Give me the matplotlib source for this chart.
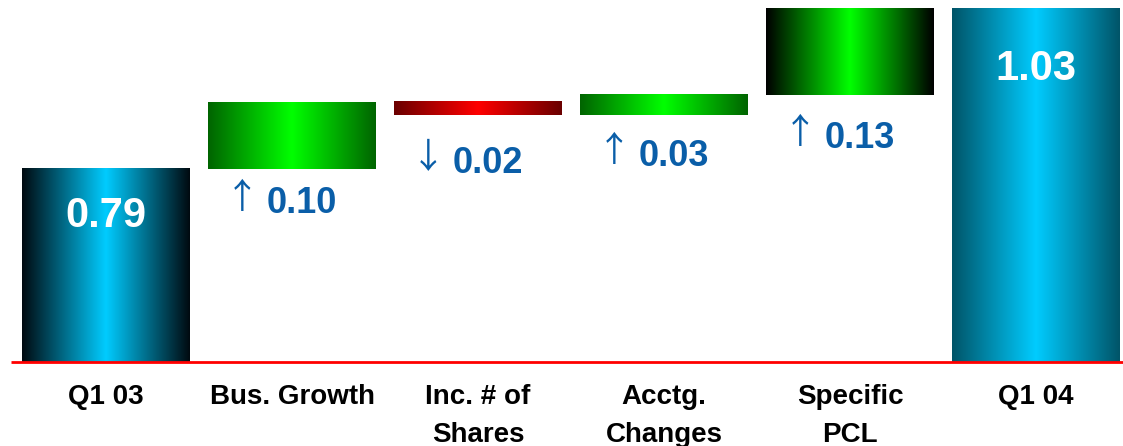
import numpy as np
import matplotlib
matplotlib.use('Agg')
import matplotlib.pyplot as plt
from matplotlib.colors import LinearSegmentedColormap

# --- Data ---
categories = ['Q1 03', 'Bus. Growth', 'Inc. # of\nShares', 'Acctg.\nChanges', 'Specific\nPCL', 'Q1 04']
start_value = 0.79
deltas = [0.10, -0.02, 0.03, 0.13]
end_value = 1.03

plt.rcParams['font.family'] = ['Liberation Sans', 'DejaVu Sans']

fig = plt.figure(figsize=(11.23, 4.46), dpi=100)
ax = fig.add_axes([0, 0, 1, 1])
ax.axis('off')

base = 0.50
px_per_unit = 666.7
width = 0.903
blue = '#0a5ea8'


def gradient_bar(x, bottom, top, edge, center):
    cmap = LinearSegmentedColormap.from_list('g', [edge, center, edge])
    grad = np.linspace(0, 1, 256).reshape(1, -1)
    ax.imshow(grad, cmap=cmap, aspect='auto', interpolation='bicubic',
              extent=(x - width / 2, x + width / 2, bottom, top), zorder=2)


# totals
gradient_bar(0, base, start_value, '#000a10', '#00ccff')
gradient_bar(5, base, end_value, '#005468', '#00ccff')

# deltas
edge_cols = ['#006400', '#6a0000', '#006400', '#000000']
label_drop = [44, 58, 51, 53]  # px from bar bottom to text baseline
level = start_value
for i, d in enumerate(deltas):
    x = i + 1
    lo, hi = sorted([level, level + d])
    center = '#00ff00' if d > 0 else '#ff0000'
    gradient_bar(x, lo, hi, edge_cols[i], center)
    arrow = '\u2191' if d > 0 else '\u2193'
    ax.annotate(arrow, (x, lo), xytext=(-50, -label_drop[i] + 5), textcoords='offset pixels',
                ha='center', va='baseline', fontsize=25, color=blue,
                family=['Noto Sans CJK JP', 'DejaVu Sans'])
    ax.annotate(f'{abs(d):.2f}', (x, lo), xytext=(-25, -label_drop[i]), textcoords='offset pixels',
                ha='left', va='baseline', fontsize=26, fontweight='bold', color=blue)
    level += d

# values in total bars
ax.annotate(f'{start_value:.2f}', (0, start_value), xytext=(0, -58), textcoords='offset pixels',
            ha='center', va='baseline', fontsize=30, fontweight='bold', color='white', zorder=3)
ax.annotate(f'{end_value:.2f}', (5, end_value), xytext=(0, -71), textcoords='offset pixels',
            ha='center', va='baseline', fontsize=30, fontweight='bold', color='white', zorder=3)

# baseline
ax.plot([-0.51, 5.47], [base, base], color='#ff0000', lw=2, zorder=3, solid_capstyle='butt')

# category labels
for i, lab in enumerate(categories):
    for j, line in enumerate(lab.split('\n')):
        ax.annotate(line, (i, base), xytext=(0, -42 - 38 * j), textcoords='offset pixels',
                    ha='center', va='baseline', fontsize=20, fontweight='bold', color='black')

ax.set_xlim(-106 / 186, (1123 - 106) / 186)
ax.set_ylim(base - 84 / px_per_unit, base + 362 / px_per_unit)

fig.savefig('out.png', dpi=100)
